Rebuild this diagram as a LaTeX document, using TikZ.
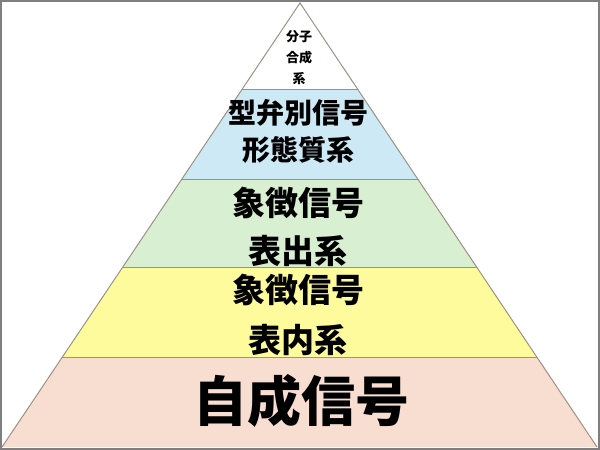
\documentclass[tikz,border=0pt]{standalone}
\usepackage{fontspec}
\newfontfamily\jp{Noto Sans CJK JP}
\usetikzlibrary{calc}
\definecolor{tierblue}{HTML}{CDE9F5}
\definecolor{tiergreen}{HTML}{D8EFD2}
\definecolor{tieryellow}{HTML}{FDFB9B}
\definecolor{tierpink}{HTML}{F8DDD1}
\definecolor{edgegray}{HTML}{9C9284}
\definecolor{framegray}{HTML}{7F7F7F}
\tikzset{
  tiertext/.style={font=\jp\bfseries, text=black, inner sep=0pt, align=center},
}

\begin{document}
\begin{tikzpicture}[x=1pt, y=1pt]
			%%%%% START %%%%%
			\useasboundingbox (0, 0) rectangle (600, 450);
			\fill[white] (0, 0) rectangle (600, 450);
			
			\begin{scope}
				\clip (2, 3) -- (300, 447) -- (597, 3) -- cycle;
				\fill[tierpink]   (0, 3)   rectangle (600, 92);
				\fill[tieryellow] (0, 92)  rectangle (600, 182);
				\fill[tiergreen]  (0, 182) rectangle (600, 270);
				\fill[tierblue]   (0, 270) rectangle (600, 360);
				\draw[edgegray, line width = 1pt] (0, 92) -- (600, 92);
				\draw[edgegray, line width = 1pt] (0, 182) -- (600, 182);
				\draw[edgegray, line width = 1pt] (0, 270) -- (600, 270);
				\draw[edgegray, line width = 1pt] (0, 360) -- (600, 360);
			\end{scope}
			\draw[edgegray, line width = 1pt] (2, 3) -- (300, 447) -- (597, 3);
			
			\node[tiertext, font=\jp\bfseries\fontsize{13}{21}\selectfont] (top) at (299, 392) {分子\\合成\\系};
			\node[tiertext, font=\jp\bfseries\fontsize{28}{37}\selectfont] (form) at (298, 318.5) {型弁別信号\\形態質系};
			\node[tiertext, font=\jp\bfseries\fontsize{33}{48}\selectfont] (outer) at (298, 223) {象徴信号\\表出系};
			\node[tiertext, font=\jp\bfseries\fontsize{33}{50}\selectfont] (inner) at (298, 135) {象徴信号\\表内系};
			\node[tiertext, font=\jp\bfseries\fontsize{54}{54}\selectfont] (self) at (301, 49) {自成信号};
			
			\draw[framegray, line width = 2pt] (1, 1) rectangle (599, 449);
			%%%%% END %%%%%
\end{tikzpicture}
\end{document}
